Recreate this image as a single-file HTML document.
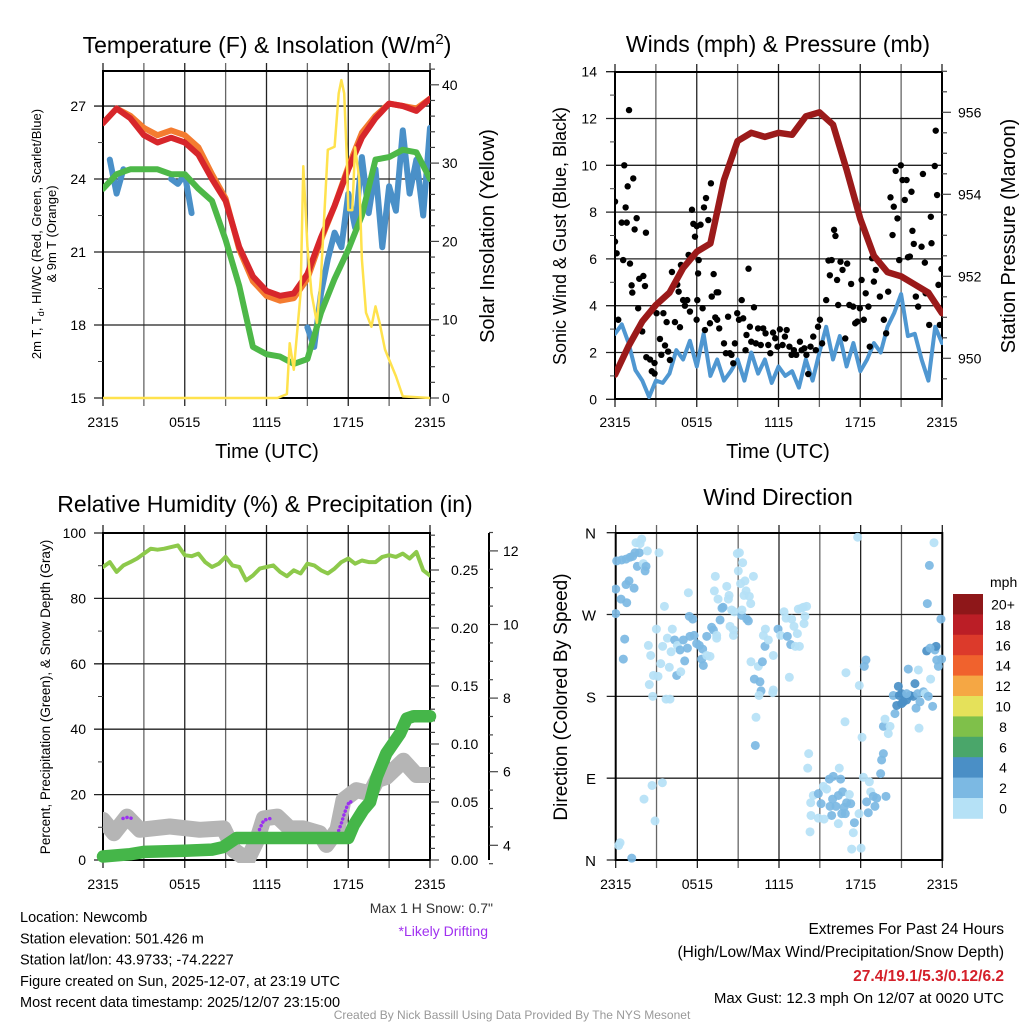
<!DOCTYPE html>
<html><head><meta charset="utf-8">
<style>
html,body{margin:0;padding:0;background:#fff;}
svg{display:block;font-family:"Liberation Sans",sans-serif;}
</style></head>
<body>
<svg id="chart" width="1024" height="1024" viewBox="0 0 1024 1024" xmlns="http://www.w3.org/2000/svg">
<defs>
<clipPath id="c1"><rect x="103" y="71" width="327" height="329"/></clipPath>
<clipPath id="c2"><rect x="615" y="71" width="328" height="330"/></clipPath>
<clipPath id="c3"><rect x="103" y="533" width="327" height="330"/></clipPath>
<clipPath id="c4"><rect x="612" y="530" width="334" height="334"/></clipPath>
</defs>
</svg>
<script>
// ---------- Panel 1 data ----------
const tempHours = [0,1,2,3,4,5,6,7,8,9,10,11,12,13,14,15,16,17,18,19,20,21,22,23,24];
const tempRed = [26.3,26.9,26.5,25.8,25.5,25.7,25.5,25.0,24.0,23.1,21.2,20.0,19.4,19.2,19.3,20.1,21.6,22.9,24.4,25.7,26.5,27.1,27.0,26.8,27.3];
const tempOrange = [26.3,26.9,26.6,26.1,25.8,26.0,25.8,25.3,24.2,23.2,21.1,19.8,19.2,19.0,19.1,19.9,21.5,22.9,24.5,25.9,26.6,27.1,27.0,26.9,27.3];
const tempGreen = [23.6,24.2,24.4,24.4,24.4,24.2,24.2,23.6,23.1,21.5,19.6,17.1,16.8,16.7,16.4,16.6,18.5,19.9,21.1,22.5,24.8,24.9,25.2,25.1,24.0];
const blueHours = [0.5,1.0,1.5,null,5,5.5,6,6.5,null,15,15.5,16,16.5,17,17.5,18,18.5,19,19.5,20,20.5,21,21.5,22,22.5,23,23.5,24];
const blueValues = [24.8,23.4,24.4,null,24.0,23.8,24.2,22.6,null,17.9,17.1,19.3,20.7,21.8,21.2,23.4,22.0,24.9,22.6,24.4,21.2,23.7,22.7,26.0,23.4,24.8,22.5,26.1];
const solarHours = [0,12.8,13.5,13.7,14,14.5,14.7,15,15.3,15.7,16,16.5,17,17.3,17.5,17.7,17.9,18,18.3,18.5,18.8,19,19.3,19.7,20,20.3,20.7,21,21.5,22,24];
const solarValues = [0,0,0.5,7,3.6,13.4,29.6,19.4,13.4,9.6,15.5,31.7,32.1,38.9,40.6,38.9,30.4,24,24,32,28,17.7,10.9,9.1,11.7,9.6,6.2,4.9,2.8,0.2,0];
const timeTicks = ["2315","0515","1115","1715","2315"];
const p1LeftTicks = [15,18,21,24,27];
const p1RightTicks = [0,10,20,30,40];
// ---------- Panel 2 data ----------
const presHours = tempHours;
const presValues = [949.6,950.3,950.9,951.3,951.6,952.2,952.6,952.8,954.35,955.3,955.5,955.4,955.5,955.45,955.9,956.0,955.7,954.6,953.4,952.5,952.1,952.0,951.8,951.6,951.1];
const windHours = [0,0.5,1,1.5,2,2.5,3,3.5,4,4.5,5,5.5,6,6.5,7,7.5,8,8.5,9,9.5,10,10.5,11,11.5,12,12.5,13,13.5,14,14.5,15,15.5,16,16.5,17,17.5,18,18.5,19,19.5,20,20.5,21,21.5,22,22.5,23,23.5,24];
const windValues = [2.8,3.2,2.4,1.25,0.8,0.1,0.8,0.7,1.1,2.1,1.7,2.5,1.4,2.8,1.0,1.7,0.8,1.2,1.7,0.8,2.0,1.1,1.7,0.7,1.4,1.0,1.2,0.5,1.7,0.8,2.0,3.1,1.7,2.7,1.4,2.4,1.2,1.7,2.4,2.0,3.1,3.7,4.5,2.7,2.8,1.7,0.8,3.1,2.4];
const gustHours = [1.03,0.68,0,1.34,0.93,0.78,0.49,0.86,1.44,1.59,2.27,0,0.12,0.6,1.1,1.22,1.27,1.78,2.08,2.2,1.7,2.0,0.24,2.3,2.57,2.7,2.9,2.9,3.05,3.3,3.4,3.55,3.67,3.79,3.9,4.03,4.18,4.4,4.57,4.67,4.77,4.84,5.0,5.13,5.3,5.4,5.5,5.65,5.75,5.87,6.0,6.1,6.14,6.04,5.99,6.28,6.43,6.53,6.68,6.85,6.6,6.97,7.04,7.1,7.24,7.46,7.58,7.36,7.5,7.65,8.0,8.14,8.3,8.43,8.55,8.68,8.8,8.97,9.1,9.3,9.41,9.58,9.65,9.8,9.9,10.0,10.2,10.34,10.5,10.7,10.88,11.05,11.25,11.4,11.6,11.76,11.93,12.1,12.3,12.47,12.6,12.8,12.96,13.13,13.3,13.57,13.7,13.9,14.05,14.18,14.35,14.55,14.74,14.9,15.04,15.2,15.5,15.67,15.77,15.9,16.08,16.18,16.3,16.38,16.55,16.7,16.9,17.04,17.2,17.33,17.48,17.63,17.78,17.97,18.1,18.26,18.4,18.6,18.7,18.87,19.0,19.14,19.44,19.73,19.9,20.05,20.22,20.37,20.46,20.6,20.73,20.86,20.98,21.1,21.27,21.4,21.5,21.64,21.76,21.83,21.93,22.08,22.25,22.5,22.6,22.74,22.8,23.06,23.18,23.23,23.47,23.54,23.64,23.74,23.84,23.96];
const gustValues = [12.36,10.0,8.45,9.44,9.1,8.2,7.55,7.55,7.26,7.74,7.12,6.74,6.24,5.95,5.8,4.87,4.56,5.15,5.27,4.84,3.89,2.9,3.4,1.8,1.7,1.2,1.55,1.1,3.68,2.58,1.9,3.68,2.3,3.3,2.04,1.68,5.44,3.3,4.9,4.6,3.08,5.74,4.24,4.0,4.24,6.17,3.75,8.1,7.5,6.95,7.4,5.38,5.95,4.24,3.4,7.46,3.89,8.2,8.6,7.66,2.96,3.25,9.23,4.39,5.35,4.57,4.57,3.5,3.4,3.03,2.39,1.97,3.53,1.97,1.9,1.54,2.39,3.68,3.4,4.24,3.46,2.1,2.75,5.58,3.1,2.46,3.93,2.39,3.03,2.32,3.03,2.82,2.32,1.97,2.85,2.61,2.25,2.99,2.32,2.68,2.96,2.25,1.9,2.1,1.9,2.46,2.1,2.18,1.9,1.08,2.25,2.68,2.1,3.1,3.4,2.39,4.24,5.93,5.3,5.95,7.24,6.98,5.1,4.03,5.88,5.53,2.6,5.8,4.03,4.93,3.96,3.25,3.32,3.89,5.1,3.4,4.53,3.96,2.25,6.03,5.03,5.53,4.39,3.4,2.82,4.6,8.63,7.02,8.23,9.76,7.73,5.95,10.0,9.37,8.52,9.37,6.07,6.1,8.87,7.2,6.64,4.39,3.96,6.52,9.63,5.84,4.53,3.18,7.8,6.67,9.97,11.48,8.73,4.89,3.18,5.57];
const p2LeftTicks = [0,2,4,6,8,10,12,14];
const p2RightTicks = [950,952,954,956];
// ---------- Panel 3 data ----------
const rhHours = windHours;
const rhValues = [89.6,91.1,88.1,90.1,91.1,92.2,93.7,95.2,94.9,95.2,95.7,96.2,93.2,92.9,93.7,91.1,89.6,90.6,92.7,90.1,89.6,85.5,87.0,89.1,89.6,90.1,88.1,86.8,88.6,87.6,90.6,90.1,88.6,87.6,89.1,91.1,92.2,90.6,91.6,91.1,91.1,92.7,93.2,92.7,93.7,92.2,94.2,88.6,87.0];
const precipHours = [0,2,3,6,8,8.8,9.8,18.0,18.4,19.1,19.6,20.1,20.8,21.8,22.3,22.8,24];
const precipValues = [0.003,0.005,0.007,0.008,0.009,0.011,0.019,0.019,0.030,0.043,0.050,0.072,0.092,0.109,0.122,0.124,0.124];
const snowHours = [0,0.8,1.76,2.7,4.9,7.1,8.85,9.6,10.6,11.3,11.8,12.8,13.7,14.7,15.9,16.4,17.2,17.65,18.6,19.6,20.1,20.8,22.05,23,24];
const snowValues = [4.69,4.33,4.78,4.42,4.51,4.42,4.46,3.87,3.6,4.14,4.73,4.78,4.46,4.46,4.33,4.01,4.42,5.23,5.5,5.41,5.77,5.86,6.3,5.91,5.91];
const driftHours = [[1.47,1.8,2.13],[11.3,11.5,11.8,12.3],[17.3,17.5,17.7,17.9,18.1,18.3]];
const driftValues = [[4.73,4.76,4.73],[4.1,4.45,4.68,4.73],[4.4,4.6,4.85,5.05,5.2,5.15]];
const p3LeftTicks = [0,20,40,60,80,100];
const p3PrecipTicks = ["0.00","0.05","0.10","0.15","0.20","0.25"];
const p3SnowTicks = [4,6,8,10,12];
// ---------- Panel 4 data ----------
const wdHours = [0,0.07,0.44,0.76,1.05,1.25,1.42,1.74,1.49,1.91,1.79,2.33,3.18,1.59,2.03,2.23,2.16,0.98,0.76,1.35,0.39,0.81,0,0.66,0.56,3.58,2.99,2.4,2.57,3.31,2.77,3.11,2.47,2.72,3.7,3.99,3.45,3.8,4.16,4.33,4.53,4.07,4.48,4.78,3.94,5.07,4.73,4.97,5.27,5.41,5.66,5.34,5.46,5.76,5.95,6.15,6.39,6.32,6.44,6.69,6.93,6.69,7.05,7.18,7.42,7.42,7.67,7.81,7.89,7.32,7.25,7.52,8.16,8.33,8.28,8.52,8.72,8.65,8.65,8.4,8.94,9.09,9.01,9.33,9.18,9.5,9.58,9.43,9.82,9.92,10.12,9.26,9.63,9.75,9.28,9.94,10.19,10.6,10.68,10.48,10.53,10.31,10.26,10.78,11.0,10.85,10.97,11.22,11.58,11.58,11.54,11.93,12.12,12.37,12.52,12.61,12.86,12.93,12.76,13.2,13.5,13.42,13.67,13.79,14.03,13.91,13.84,13.35,13.1,14.18,14.11,14.33,14.52,14.89,15.09,15.26,15.5,15.7,15.75,15.99,15.94,16.19,16.36,16.43,16.53,16.68,16.78,16.97,17.17,17.27,16.87,16.61,15.87,15.31,14.89,14.35,14.28,16.36,17.54,17.46,17.34,18.03,17.88,18.2,18.64,18.44,18.56,18.74,18.93,19.18,19.05,19.47,19.86,19.54,19.67,19.67,19.79,20.03,20.16,20.52,20.4,20.77,20.84,21.01,21.14,21.38,21.63,21.87,21.38,20.65,21.01,21.99,22.24,21.5,22.19,22.36,22.61,22.73,22.97,22.29,22.07,23.29,23.14,23.46,23.54,22.85,23.1,23.59,23.71,23.95,23.9,22.9,23.05,23.39,16.92,16.85,18.1,18.39,18.27,17.9,17.78,2.08,2.67,3.43,2.89,0.32,0.22,1.18];
const wdDirs = [298,329,330,331,333,334,338,338,349,353,348,340,338,323,326,323,318,307,303,299,287,283,271,243,221,279,254,236,225,216,203,202,193,180,177,177,235,244,254,242,236,229,203,207,212,219,231,242,233,268,265,294,246,247,238,236,232,221,214,225,224,246,256,253,247,244,264,277,278,312,296,287,301,291,287,275,273,253,247,257,337,338,318,327,304,307,296,291,290,282,312,269,265,263,275,218,199,196,186,213,181,157,126,218,254,247,235,242,225,187,184,254,247,273,266,246,237,265,201,235,235,276,277,278,279,268,260,249,257,117,101,63,71,73,62,81,78,89,59,92,67,59,71,101,89,75,58,63,72,62,51,51,49,45,46,49,31,40,41,30,12,13,51,91,86,64,52,75,70,68,59,95,70,110,117,147,155,139,147,161,181,191,181,183,174,176,181,180,183,170,172,194,209,210,183,174,185,183,180,145,167,169,199,231,235,230,233,220,213,221,265,282,324,349,206,152,135,220,213,192,355,67,82,85,43,19,16,2];
const wdSpeeds = [3,3,3,3,3,3,3,3,1,1,1,1,1,3,1,3,3,3,3,3,3,3,3,3,3,1,1,1,1,1,1,1,1,1,1,1,1,1,1,3,1,1,3,1,1,3,3,3,3,3,3,1,3,3,3,3,3,3,3,1,1,3,3,3,1,1,3,3,3,1,1,1,1,1,1,1,1,1,1,1,1,1,1,1,1,1,1,1,1,1,1,3,3,3,1,1,3,3,3,1,1,1,3,3,1,1,3,1,1,1,1,3,1,1,1,3,3,1,1,1,1,1,1,1,1,1,1,1,1,1,1,1,1,3,3,1,1,3,3,3,3,3,3,1,3,3,3,3,1,3,3,3,3,1,1,1,1,1,3,1,1,1,1,1,1,3,3,1,3,3,3,3,3,3,3,3,1,1,1,3,3,5,5,5,5,5,5,5,3,5,5,5,1,3,3,3,3,1,3,1,3,3,1,3,5,5,3,3,3,3,3,3,3,1,1,1,1,3,3,1,1,1,1,1,1,1,1,3,3];
const dirTicks = ["N","E","S","W","N"];
const speedBins = ["0","2","4","6","8","10","12","14","16","18","20+"];
const speedColors = ["#b5e1f6","#7cb9e3","#4a8fc6","#4aa66a","#7fc04a","#e5e15a","#f5a744","#f0622d","#dc3a2b","#bb1e26","#8e1719"];

// ---------- helpers ----------
const NS = "http://www.w3.org/2000/svg";
const svg = document.getElementById("chart");
function mk(tag, attrs, parent) {
  const e = document.createElementNS(NS, tag);
  for (const k in attrs) e.setAttribute(k, attrs[k]);
  (parent || svg).appendChild(e);
  return e;
}
function txt(s, x, y, size, anchor, parent, extra) {
  const t = mk("text", Object.assign({x: x, y: y, "font-size": size, "text-anchor": anchor || "middle", fill: "#000"}, extra || {}), parent);
  t.textContent = s;
  return t;
}
function pathFrom(xs, ys, fx, fy) {
  let d = "", pen = false;
  for (let i = 0; i < xs.length; i++) {
    if (xs[i] === null || ys[i] === null) { pen = false; continue; }
    d += (pen ? "L" : "M") + fx(xs[i]).toFixed(1) + "," + fy(ys[i]).toFixed(1);
    pen = true;
  }
  return d;
}
function grid(g, x0, x1, y0, y1, ys) {
  for (let i = 0; i <= 8; i++) {
    const x = x0 + (x1 - x0) * i / 8;
    const l = mk("line", {x1: x, x2: x, y1: y0 - 8, y2: y1 + 8, stroke: i % 2 ? "#666" : "#222", "stroke-width": 1.3}, g);
    
    
  }
  ys.forEach(y => {
    const l = mk("line", {x1: x0 - 9, x2: x1, y1: y, y2: y, stroke: "#222", "stroke-width": 1.3}, g);
    
    
  });
  const b = mk("rect", {x: x0, y: y0, width: x1 - x0, height: y1 - y0, fill: "none", stroke: "#000", "stroke-width": 2}, g);
  
  
}
function xLabels(g, x0, x1, y) {
  timeTicks.forEach((s, i) => {
    const t = txt(s, x0 + (x1 - x0) * i / 4, y, 14, "middle", g);
    
    
  });
}

// ================= Panel 1 =================
(function(){
  const g = mk("g", {});  
  const x0 = 103, x1 = 430;
  const fx = h => x0 + h * (x1 - x0) / 24;
  const fy = v => 398 - (v - 15) * 24.33;
  const fs = v => 398 - v * 7.83;
  grid(g, x0, x1, 71, 398, p1LeftTicks.map(fy));
  for (let v = 16.5; v < 28.5; v += 3) { const l = mk("line", {x1: x0 - 5, x2: x0, y1: fy(v), y2: fy(v), stroke: "#444"}, g);   }
  for (let v = 0; v <= 42; v += 2) { const l = mk("line", {x1: x1, x2: x1 + (v % 10 ? 5 : 9), y1: fs(v), y2: fs(v), stroke: "#444", "stroke-width": 1.2}, g);   }
  p1LeftTicks.forEach(v => { const t = txt(String(v), 86, fy(v) + 5, 14, "end", g);   });
  p1RightTicks.forEach(v => { const t = txt(String(v), 442, fs(v) + 5, 14, "start", g);   });
  const c = mk("g", {"clip-path": "url(#c1)", fill: "none", "stroke-linejoin": "round", "stroke-linecap": "round"}, g);
  const pB = mk("path", {d: pathFrom(blueHours, blueValues, fx, fy), stroke: "#4a90c8", "stroke-width": 6}, c);
   
  const pG = mk("path", {d: pathFrom(tempHours, tempGreen, fx, fy), stroke: "#4db848", "stroke-width": 6}, c);
   
  const pO = mk("path", {d: pathFrom(tempHours, tempOrange, fx, fy), stroke: "#f47c30", "stroke-width": 6}, c);
   
  const pR = mk("path", {d: pathFrom(tempHours, tempRed, fx, fy), stroke: "#d7262b", "stroke-width": 6}, c);
   
  const pY = mk("path", {d: pathFrom(solarHours, solarValues, fx, fs), stroke: "#ffe24d", "stroke-width": 2.5}, c);
   
  const tt = mk("text", {x: 267, y: 53, "font-size": 23, "text-anchor": "middle"}, g);
  tt.innerHTML = 'Temperature (F) &amp; Insolation (W/m<tspan dy="-9" font-size="15">2</tspan><tspan dy="9">)</tspan>';
   
  const yl = mk("text", {transform: "translate(41,234) rotate(-90)", "font-size": 13, "text-anchor": "middle"}, g);
  yl.innerHTML = '2m T, T<tspan dy="3" font-size="9">d</tspan><tspan dy="-3">, HI/WC (Red, Green, Scarlet/Blue)</tspan>';
   
  const yl2 = txt("& 9m T (Orange)", 0, 0, 13, "middle", g, {transform: "translate(56,234) rotate(-90)"});
   
  const yr = txt("Solar Insolation (Yellow)", 0, 0, 20, "middle", g, {transform: "translate(494,236) rotate(-90)"});
   
  xLabels(g, x0, x1, 427);
  const xt = txt("Time (UTC)", 267, 458, 20, "middle", g);  
})();

// ================= Panel 2 =================
(function(){
  const g = mk("g", {});  
  const x0 = 615, x1 = 942;
  const fx = h => x0 + h * (x1 - x0) / 24;
  const fy = v => 399.3 - v * 23.4;
  const fp = p => 358.3 - (p - 950) * 41;
  grid(g, x0, x1, 72, 399, p2LeftTicks.map(fy));
  for (let v = 1; v < 14; v += 2) { const l = mk("line", {x1: x0 - 5, x2: x0, y1: fy(v), y2: fy(v), stroke: "#444"}, g);   }
  for (let p = 949.5; p <= 957; p += 0.5) { const l = mk("line", {x1: x1, x2: x1 + (p % 2 === 0 ? 9 : 5), y1: fp(p), y2: fp(p), stroke: "#444", "stroke-width": 1.2}, g);   }
  p2LeftTicks.forEach(v => { const t = txt(String(v), 597, fy(v) + 5, 14, "end", g);   });
  p2RightTicks.forEach(v => { const t = txt(String(v), 958, fp(v) + 5, 14, "start", g);   });
  const c = mk("g", {"clip-path": "url(#c2)", fill: "none", "stroke-linejoin": "round", "stroke-linecap": "round"}, g);
  const pw = mk("path", {d: pathFrom(windHours, windValues, fx, fy), stroke: "#4f97d1", "stroke-width": 4}, c);
   
  const dots = mk("g", {fill: "#000"}, c);
   
  gustHours.forEach((h, i) => {
    const d = mk("circle", {cx: fx(h), cy: fy(gustValues[i]), r: 3.2}, dots);
    
    
  });
  const pp = mk("path", {d: pathFrom(presHours, presValues, fx, fp), stroke: "#9b1a1a", "stroke-width": 6.5}, c);
   
  const tt = txt("Winds (mph) & Pressure (mb)", 778, 52, 23, "middle", g);  
  const yl = txt("Sonic Wind & Gust (Blue, Black)", 0, 0, 18, "middle", g, {transform: "translate(566,236) rotate(-90)"});
   
  const yr = txt("Station Pressure (Maroon)", 0, 0, 20, "middle", g, {transform: "translate(1015,236) rotate(-90)"});
   
  xLabels(g, x0, x1, 427);
  const xt = txt("Time (UTC)", 778, 458, 20, "middle", g);  
})();

// ================= Panel 3 =================
(function(){
  const g = mk("g", {});  
  const x0 = 103, x1 = 430;
  const fx = h => x0 + h * (x1 - x0) / 24;
  const fy = v => 860 - v * 3.27;
  const fpr = v => 860 - v * 1160;
  const fsn = v => 845.3 - (v - 4) * 36.8;
  grid(g, x0, x1, 533, 860, p3LeftTicks.map(fy));
  for (let v = 10; v < 100; v += 20) { const l = mk("line", {x1: x0 - 5, x2: x0, y1: fy(v), y2: fy(v), stroke: "#444"}, g);   }
  for (let k = 0; k <= 28; k++) { const l = mk("line", {x1: x1, x2: x1 + (k % 5 ? 5 : 9), y1: fpr(k / 100), y2: fpr(k / 100), stroke: "#444", "stroke-width": 1.2}, g);   }
  const sa = mk("line", {x1: 489, x2: 489, y1: 533, y2: 860, stroke: "#000", "stroke-width": 2}, g);
   
  for (let v = 3.5; v <= 12.5; v += 0.5) { const l = mk("line", {x1: 489, x2: 489 + (v % 2 === 0 ? 9 : 4), y1: fsn(v), y2: fsn(v), stroke: "#444", "stroke-width": 1.2}, g);   }
  p3LeftTicks.forEach(v => { const t = txt(String(v), 86, fy(v) + 5, 14, "end", g);   });
  p3PrecipTicks.forEach(s => { const t = txt(s, 451, fpr(parseFloat(s)) + 5, 14, "start", g);   });
  p3SnowTicks.forEach(v => { const t = txt(String(v), 503, fsn(v) + 5, 14, "start", g);   });
  const c = mk("g", {"clip-path": "url(#c3)", fill: "none", "stroke-linejoin": "round", "stroke-linecap": "round"}, g);
  const ps = mk("path", {d: pathFrom(snowHours, snowValues, fx, fsn), stroke: "#b5b5b5", "stroke-width": 16}, c);
   
  driftHours.forEach((hs, i) => {
    const pd = mk("path", {d: pathFrom(hs, driftValues[i], fx, fsn), stroke: "#9b30f0", "stroke-width": 3.5, "stroke-dasharray": "0.1 4"}, c);
    
    
  });
  const c2 = mk("g", {fill: "none", "stroke-linejoin": "round", "stroke-linecap": "round"}, g);
  const pr = mk("path", {d: pathFrom(precipHours, precipValues, fx, fpr), stroke: "#45b649", "stroke-width": 12.5}, c2);
   
  const rh = mk("path", {d: pathFrom(rhHours, rhValues, fx, fy), stroke: "#8dc94b", "stroke-width": 4}, c);
   
  const tt = txt("Relative Humidity (%) & Precipitation (in)", 265, 512, 23, "middle", g);  
  const yl = txt("Percent, Precipitation (Green), & Snow Depth (Gray)", 0, 0, 13.5, "middle", g, {transform: "translate(50,697) rotate(-90)"});
   
  xLabels(g, x0, x1, 889);
})();

// ================= Panel 4 =================
(function(){
  const g = mk("g", {});  
  const x0 = 615.7, x1 = 942.3;
  const fx = h => x0 + h * (x1 - x0) / 24;
  const fy = d => 860 - d * 327.3 / 360;
  grid(g, x0, x1, 533, 860, [0, 90, 180, 270, 360].map(fy));
  dirTicks.forEach((s, i) => { const t = txt(s, 596, fy(i * 90) + 6, 15, "end", g);   });
  const c = mk("g", {"clip-path": "url(#c4)"}, g);
  wdHours.forEach((h, i) => {
    const bin = Math.min(10, Math.floor(wdSpeeds[i] / 2));
    const d = mk("circle", {cx: fx(h), cy: fy(wdDirs[i]), r: 4.5, fill: speedColors[bin], "fill-opacity": 0.92}, c);
    
    
  });
  const tt = txt("Wind Direction", 778, 505, 23, "middle", g);  
  const yl = txt("Direction (Colored By Speed)", 0, 0, 19, "middle", g, {transform: "translate(567,697) rotate(-90)"});
   
  xLabels(g, x0, x1, 889);
  const leg = mk("g", {}, g);  
  const lt = txt("mph", 990, 587, 14, "start", leg);  
  speedBins.forEach((s, i) => {
    const k = 10 - i;
    const y = 594 + i * 20.4;
    const r = mk("rect", {x: 953, y: y, width: 30, height: 20.8, fill: speedColors[k]}, leg);
     
    const t = txt(speedBins[k], 1003, y + 15.5, 14, "middle", leg);  
  });
})();

// ================= Footer text =================
(function(){
  const g = mk("g", {});  
  const a = txt('Max 1 H Snow: 0.7"', 493, 913, 14, "end", g, {fill: "#333"});  
  const b = txt("*Likely Drifting", 488, 936, 14, "end", g, {fill: "#a030f0"});  
  const lines = ["Location: Newcomb", "Station elevation: 501.426 m", "Station lat/lon: 43.9733; -74.2227", "Figure created on Sun, 2025-12-07, at 23:19 UTC", "Most recent data timestamp: 2025/12/07 23:15:00"];
  lines.forEach((s, i) => { const t = txt(s, 20, 922 + i * 21.3, 14.5, "start", g);   });
  const r1 = txt("Extremes For Past 24 Hours", 1004, 934, 15.5, "end", g);  
  const r2 = txt("(High/Low/Max Wind/Precipitation/Snow Depth)", 1004, 957, 15.5, "end", g);  
  const r3 = txt("27.4/19.1/5.3/0.12/6.2", 1004, 981, 15.5, "end", g, {fill: "#d4202a", "font-weight": "bold"});  
  const r4 = txt("Max Gust: 12.3 mph On 12/07 at 0020 UTC", 1004, 1003, 15, "end", g);  
  const f = txt("Created By Nick Bassill Using Data Provided By The NYS Mesonet", 512, 1019, 12, "middle", g, {fill: "#999"});  
})();
</script>
</body></html>
